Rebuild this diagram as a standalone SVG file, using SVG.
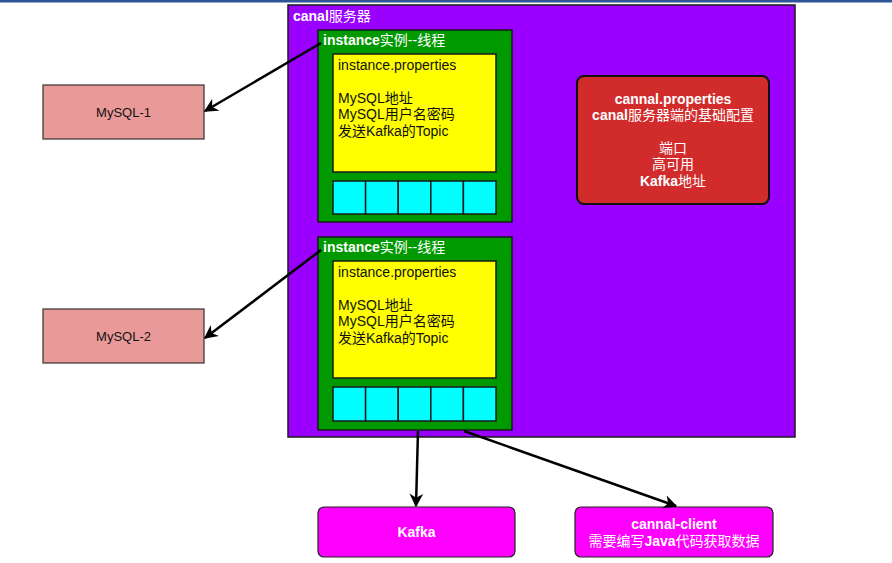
<svg xmlns="http://www.w3.org/2000/svg" width="892" height="563" viewBox="0 0 892 563">
<defs>
<style>
text{font-family:"Liberation Sans","Noto Sans CJK SC",sans-serif;font-size:14px}
.w{fill:#ffffff;font-weight:bold}
.w tspan.n{font-weight:normal}
.k{fill:#111111}
.c{text-anchor:middle}
.m{font-size:13px}
.box{stroke:#1a1a1a;stroke-width:1.5}
.cell{fill:#00ffff;stroke:#1a1a1a;stroke-width:1.5}
.conn{stroke:#000;stroke-width:2.5;fill:none;marker-end:url(#ah)}
</style>
<marker id="ah" viewBox="0 0 10 10" refX="9" refY="5" markerWidth="5.5" markerHeight="5.5" orient="auto" markerUnits="strokeWidth">
<path d="M0,0 L10,5 L0,10 L3,5 z" fill="#000"/>
</marker>
</defs>
<rect x="0" y="0" width="892" height="563" fill="#ffffff"/>
<rect x="0" y="0" width="892" height="2.5" fill="#2f5597"/>

<g id="canal-server">
<rect class="box" x="288" y="5" width="507" height="432" fill="#9900ff"/>
<text class="w" x="293" y="21">canal<tspan class="n">服务器</tspan></text>
</g>

<g id="instance1">
<rect class="box" x="318" y="30" width="194" height="192" fill="#009900"/>
<text class="w" x="323" y="45">instance<tspan class="n">实例--线程</tspan></text>
<rect class="box" x="333" y="54" width="163" height="118" fill="#ffff00"/>
<text class="k" x="338" y="70">instance.properties</text>
<text class="k" x="338" y="103">MySQL地址</text>
<text class="k" x="338" y="119">MySQL用户名密码</text>
<text class="k" x="338" y="136">发送Kafka的Topic</text>
<rect class="cell" x="333" y="181" width="32.6" height="33"/>
<rect class="cell" x="365.6" y="181" width="32.6" height="33"/>
<rect class="cell" x="398.2" y="181" width="32.6" height="33"/>
<rect class="cell" x="430.8" y="181" width="32.6" height="33"/>
<rect class="cell" x="463.4" y="181" width="32.6" height="33"/>
</g>

<g id="instance2">
<rect class="box" x="318" y="237" width="194" height="193" fill="#009900"/>
<text class="w" x="323" y="252">instance<tspan class="n">实例--线程</tspan></text>
<rect class="box" x="333" y="261" width="163" height="117" fill="#ffff00"/>
<text class="k" x="338" y="277">instance.properties</text>
<text class="k" x="338" y="310">MySQL地址</text>
<text class="k" x="338" y="326">MySQL用户名密码</text>
<text class="k" x="338" y="343">发送Kafka的Topic</text>
<rect class="cell" x="333" y="387" width="32.6" height="34"/>
<rect class="cell" x="365.6" y="387" width="32.6" height="34"/>
<rect class="cell" x="398.2" y="387" width="32.6" height="34"/>
<rect class="cell" x="430.8" y="387" width="32.6" height="34"/>
<rect class="cell" x="463.4" y="387" width="32.6" height="34"/>
</g>

<g id="canal-properties">
<rect x="577" y="76" width="192" height="128" rx="7" fill="#d22b2b" stroke="#111" stroke-width="2"/>
<text class="w c" x="673" y="104">cannal.properties</text>
<text class="w c" x="673" y="120">canal<tspan class="n">服务器端的基础配置</tspan></text>
<text class="w c" x="673" y="153"><tspan class="n">端口</tspan></text>
<text class="w c" x="673" y="169"><tspan class="n">高可用</tspan></text>
<text class="w c" x="673" y="186">Kafka<tspan class="n">地址</tspan></text>
</g>

<g id="mysql1">
<rect x="43" y="85" width="161" height="54" fill="#ea9999" stroke="#333" stroke-width="1.2"/>
<text class="k c m" x="123.5" y="117">MySQL-1</text>
</g>

<g id="mysql2">
<rect x="43" y="309" width="161" height="54" fill="#ea9999" stroke="#333" stroke-width="1.2"/>
<text class="k c m" x="123.5" y="341">MySQL-2</text>
</g>

<g id="kafka">
<rect x="318" y="507" width="197" height="50" rx="6" fill="#ff00ff" stroke="#222" stroke-width="1.2"/>
<text class="w c" x="416.5" y="537">Kafka</text>
</g>

<g id="cannal-client">
<rect x="575" y="507" width="198" height="50" rx="6" fill="#ff00ff" stroke="#222" stroke-width="1.2"/>
<text class="w c" x="674" y="529">cannal-client</text>
<text class="w c" x="674" y="546"><tspan class="n">需要编写</tspan>Java<tspan class="n">代码获取数据</tspan></text>
</g>

<g id="connectors">
<path class="conn" d="M321,43 L205,111"/>
<path class="conn" d="M321,250 L205,338"/>
<path class="conn" d="M418,431 L416,506"/>
<path class="conn" d="M464,431 L676,506"/>
</g>
</svg>
